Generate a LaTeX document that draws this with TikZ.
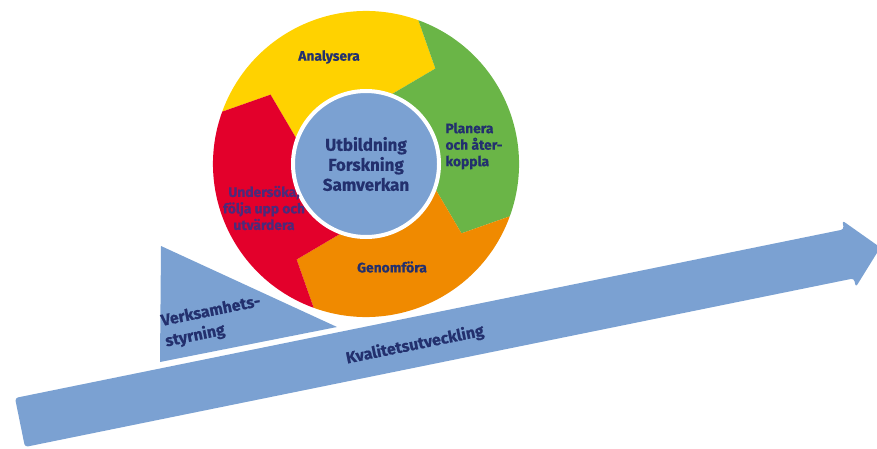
\documentclass[tikz,border=0pt]{standalone}
\usepackage{fontspec}
\setmainfont{Fira Sans}[BoldFeatures={FakeBold=0.6}]
\usetikzlibrary{calc}

\definecolor{qblue}{HTML}{7BA1D2}
\definecolor{cyellow}{HTML}{FFD200}
\definecolor{cgreen}{HTML}{6AB547}
\definecolor{corange}{HTML}{F08A00}
\definecolor{cred}{HTML}{E3002B}
\definecolor{navy}{HTML}{23306E}
\definecolor{plum}{HTML}{4B2A7B}

\begin{document}
\begin{tikzpicture}[
    x=1pt, y=1pt,
    seglabel/.style={font=\bfseries\fontsize{13.8}{16.5}\selectfont, text=navy, align=center, inner sep=0pt},
    biglabel/.style={font=\bfseries\fontsize{16}{21}\selectfont, text=navy, inner sep=0pt},
    core/.style={circle, fill=qblue, draw=white, line width=4pt, minimum size=146pt, inner sep=0pt}
]

    % Frame - keeps the 877 x 448 proportions
    \useasboundingbox (0,0) rectangle (877,448);

    % --- Kvalitetsutveckling arrow ---
    \begin{scope}[shift={(15,50)}, rotate=11.5]
        \fill[qblue, rounded corners=3pt] (423,0) -- (0,0) -- (0,-50) -- (846,-50)
            -- (846,-59) -- (878,-25) -- (846,9) -- (846,0) -- cycle;
    \end{scope}
    \node[biglabel, rotate=11.5] (kval) at (415,103) {Kvalitetsutveckling};

    % --- Verksamhetsstyrning wedge ---
    \fill[qblue] (161,202) -- (337,121) -- (160,86) -- cycle;
    \node[biglabel, rotate=11.5, align=left] (styr) at (213,126) {Verksamhets-\\styrning};

    % --- Cycle of four arrows (each runs 90 degrees clockwise from \a) ---
    \coordinate (c) at (366,284);
    \foreach \a/\col in {160/cyellow, 70/cgreen, -20/corange, -110/cred}
        \fill[\col] ($(c)+(\a:153)$) arc[start angle=\a, delta angle=-90, radius=153pt]
            -- ($(c)+({\a-106}:118)$) -- ($(c)+({\a-90}:74)$)
            arc[start angle=\a-90, delta angle=90, radius=74pt]
            -- ($(c)+({\a-16}:118)$) -- cycle;

    % Centre
    \node[core, font=\bfseries\fontsize{17}{20}\selectfont, text=navy, align=center] (mid) at (c)
        {Utbildning\\Forskning\\Samverkan};

    % Step labels
    \node[seglabel] (anal) at (329,391) {Analysera};
    \node[seglabel, align=left] (plan) at (474,302) {Planera\\och åter-\\koppla};
    \node[seglabel] (genom) at (392,181) {Genomföra};
    \node[seglabel, text=plum] (unders) at (264,240) {Undersöka,\\följa upp och\\utvärdera};

\end{tikzpicture}
\end{document}
